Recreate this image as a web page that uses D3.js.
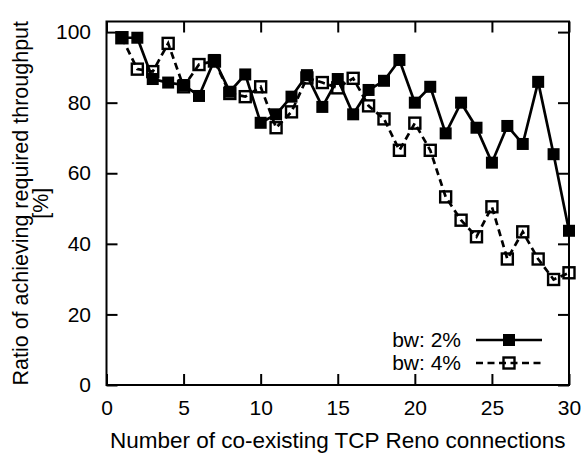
<!DOCTYPE html>
<html>
<head>
<meta charset="utf-8">
<script src="https://cdn.jsdelivr.net/npm/d3@7"></script>
<style>
  body { margin: 0; background: #fff; }
  svg { display: block; font-family: "Liberation Sans", Arial, Helvetica, sans-serif; }
</style>
</head>
<body>
<svg id="chart" width="584" height="453"></svg>
<script>
// values
const connections = [1, 2, 3, 4, 5, 6, 7, 8, 9, 10, 11, 12, 13, 14, 15, 16, 17, 18, 19, 20, 21, 22, 23, 24, 25, 26, 27, 28, 29, 30]
const bw2 = [98.4, 98.4, 86.7, 85.7, 85.0, 81.9, 92.1, 83.1, 88.0, 74.3, 76.7, 81.7, 87.8, 78.8, 86.7, 76.7, 83.6, 86.2, 92.1, 80.0, 84.5, 71.3, 80.0, 72.9, 63.0, 73.4, 68.3, 85.9, 65.4, 43.7]
const bw4 = [98.4, 89.5, 88.8, 96.8, 84.5, 90.8, 91.8, 82.6, 81.7, 84.5, 72.9, 77.4, 87.0, 85.7, 84.2, 86.9, 79.1, 75.4, 66.5, 74.2, 66.5, 53.3, 46.7, 42.0, 50.5, 35.7, 43.4, 35.7, 29.9, 31.8]
const seriesNames = ['bw: 2%', 'bw: 4%']
const xTicks = [0, 5, 10, 15, 20, 25, 30]
const yTicks = [0, 20, 40, 60, 80, 100]

const svg = d3.select('#chart')
const mLeft = 106.5, mRight = 569, mTop = 21.5, mBottom = 385

const x = d3.scaleLinear().domain([0, 30]).range([mLeft, mRight])
const y = d3.scaleLinear().domain([0, 103]).range([mBottom, mTop])

// axes, ticks point inward and are mirrored on top/right
svg.append('g').attr('transform', `translate(0,${mBottom})`)
    .call(d3.axisBottom(x).tickValues(xTicks).tickSizeInner(-11).tickSizeOuter(0).tickPadding(15))
svg.append('g').attr('transform', `translate(${mLeft},0)`)
    .call(d3.axisLeft(y).tickValues(yTicks).tickSizeInner(-11).tickSizeOuter(0).tickPadding(15.5))
svg.append('g').attr('transform', `translate(0,${mTop})`)
    .call(d3.axisTop(x).tickValues(xTicks).tickSizeInner(-11).tickSizeOuter(0).tickFormat(''))
svg.append('g').attr('transform', `translate(${mRight},0)`)
    .call(d3.axisRight(y).tickValues(yTicks).tickSizeInner(-11).tickSizeOuter(0).tickFormat(''))

svg.selectAll('.domain').remove()
svg.selectAll('.tick line').style('stroke', '#000').style('stroke-width', 2)
svg.selectAll('.tick text').style('font-family', '"Liberation Sans", Arial, sans-serif').style('font-size', '21px').style('fill', '#000')

svg.append('rect').attr('x', mLeft).attr('y', mTop).attr('width', mRight - mLeft).attr('height', mBottom - mTop)
    .style('fill', 'none').style('stroke', '#000').style('stroke-width', 2)

// titles
svg.append('text').attr('x', (mLeft + mRight) / 2).attr('y', 447.5).attr('text-anchor', 'middle')
    .style('font-size', '22.5px').text('Number of co-existing TCP Reno connections')
const yl = svg.append('text').attr('transform', `translate(28,${(mTop + mBottom) / 2}) rotate(-90)`)
    .attr('text-anchor', 'middle').style('font-size', '21.5px')
yl.append('tspan').attr('x', 0).attr('y', 0).text('Ratio of achieving required throughput')
yl.append('tspan').attr('x', 0).attr('y', 19.5).text('[%]')

const line = d3.line().x((d, i) => x(connections[i])).y(d => y(d))
const ms = 12

// bw 2%: solid line, filled squares
svg.append('path').datum(bw2).attr('d', line)
    .style('fill', 'none').style('stroke', '#000').style('stroke-width', 2.7)
svg.selectAll('.p2').data(bw2).enter().append('rect').attr('class', 'p2')
    .attr('x', (d, i) => x(connections[i]) - ms / 2).attr('y', d => y(d) - ms / 2)
    .attr('width', ms).attr('height', ms).style('fill', '#000')

// bw 4%: dashed line, open squares
svg.append('path').datum(bw4).attr('d', line)
    .style('fill', 'none').style('stroke', '#000').style('stroke-width', 2.7).style('stroke-dasharray', '7,4.5')
svg.selectAll('.p4').data(bw4).enter().append('rect').attr('class', 'p4')
    .attr('x', (d, i) => x(connections[i]) - (ms - 1) / 2).attr('y', d => y(d) - (ms - 1) / 2)
    .attr('width', ms - 1).attr('height', ms - 1).style('fill', 'none').style('stroke', '#000').style('stroke-width', 2.4)

// legend
const legY = [340, 363]
seriesNames.forEach((name, k) => {
    svg.append('text').attr('x', 461).attr('y', legY[k]).attr('dy', '0.35em').attr('text-anchor', 'end')
        .style('font-size', '21px').text(name)
    svg.append('line').attr('x1', 476).attr('x2', 542).attr('y1', legY[k]).attr('y2', legY[k])
        .style('stroke', '#000').style('stroke-width', 2.7).style('stroke-dasharray', k ? '7,4.5' : null)
    if (k == 0) {
        svg.append('rect').attr('x', 509 - ms / 2).attr('y', legY[k] - ms / 2).attr('width', ms).attr('height', ms).style('fill', '#000')
    } else {
        svg.append('rect').attr('x', 509 - (ms - 1) / 2).attr('y', legY[k] - (ms - 1) / 2).attr('width', ms - 1).attr('height', ms - 1)
            .style('fill', 'none').style('stroke', '#000').style('stroke-width', 2.4)
    }
})
</script>
</body>
</html>
